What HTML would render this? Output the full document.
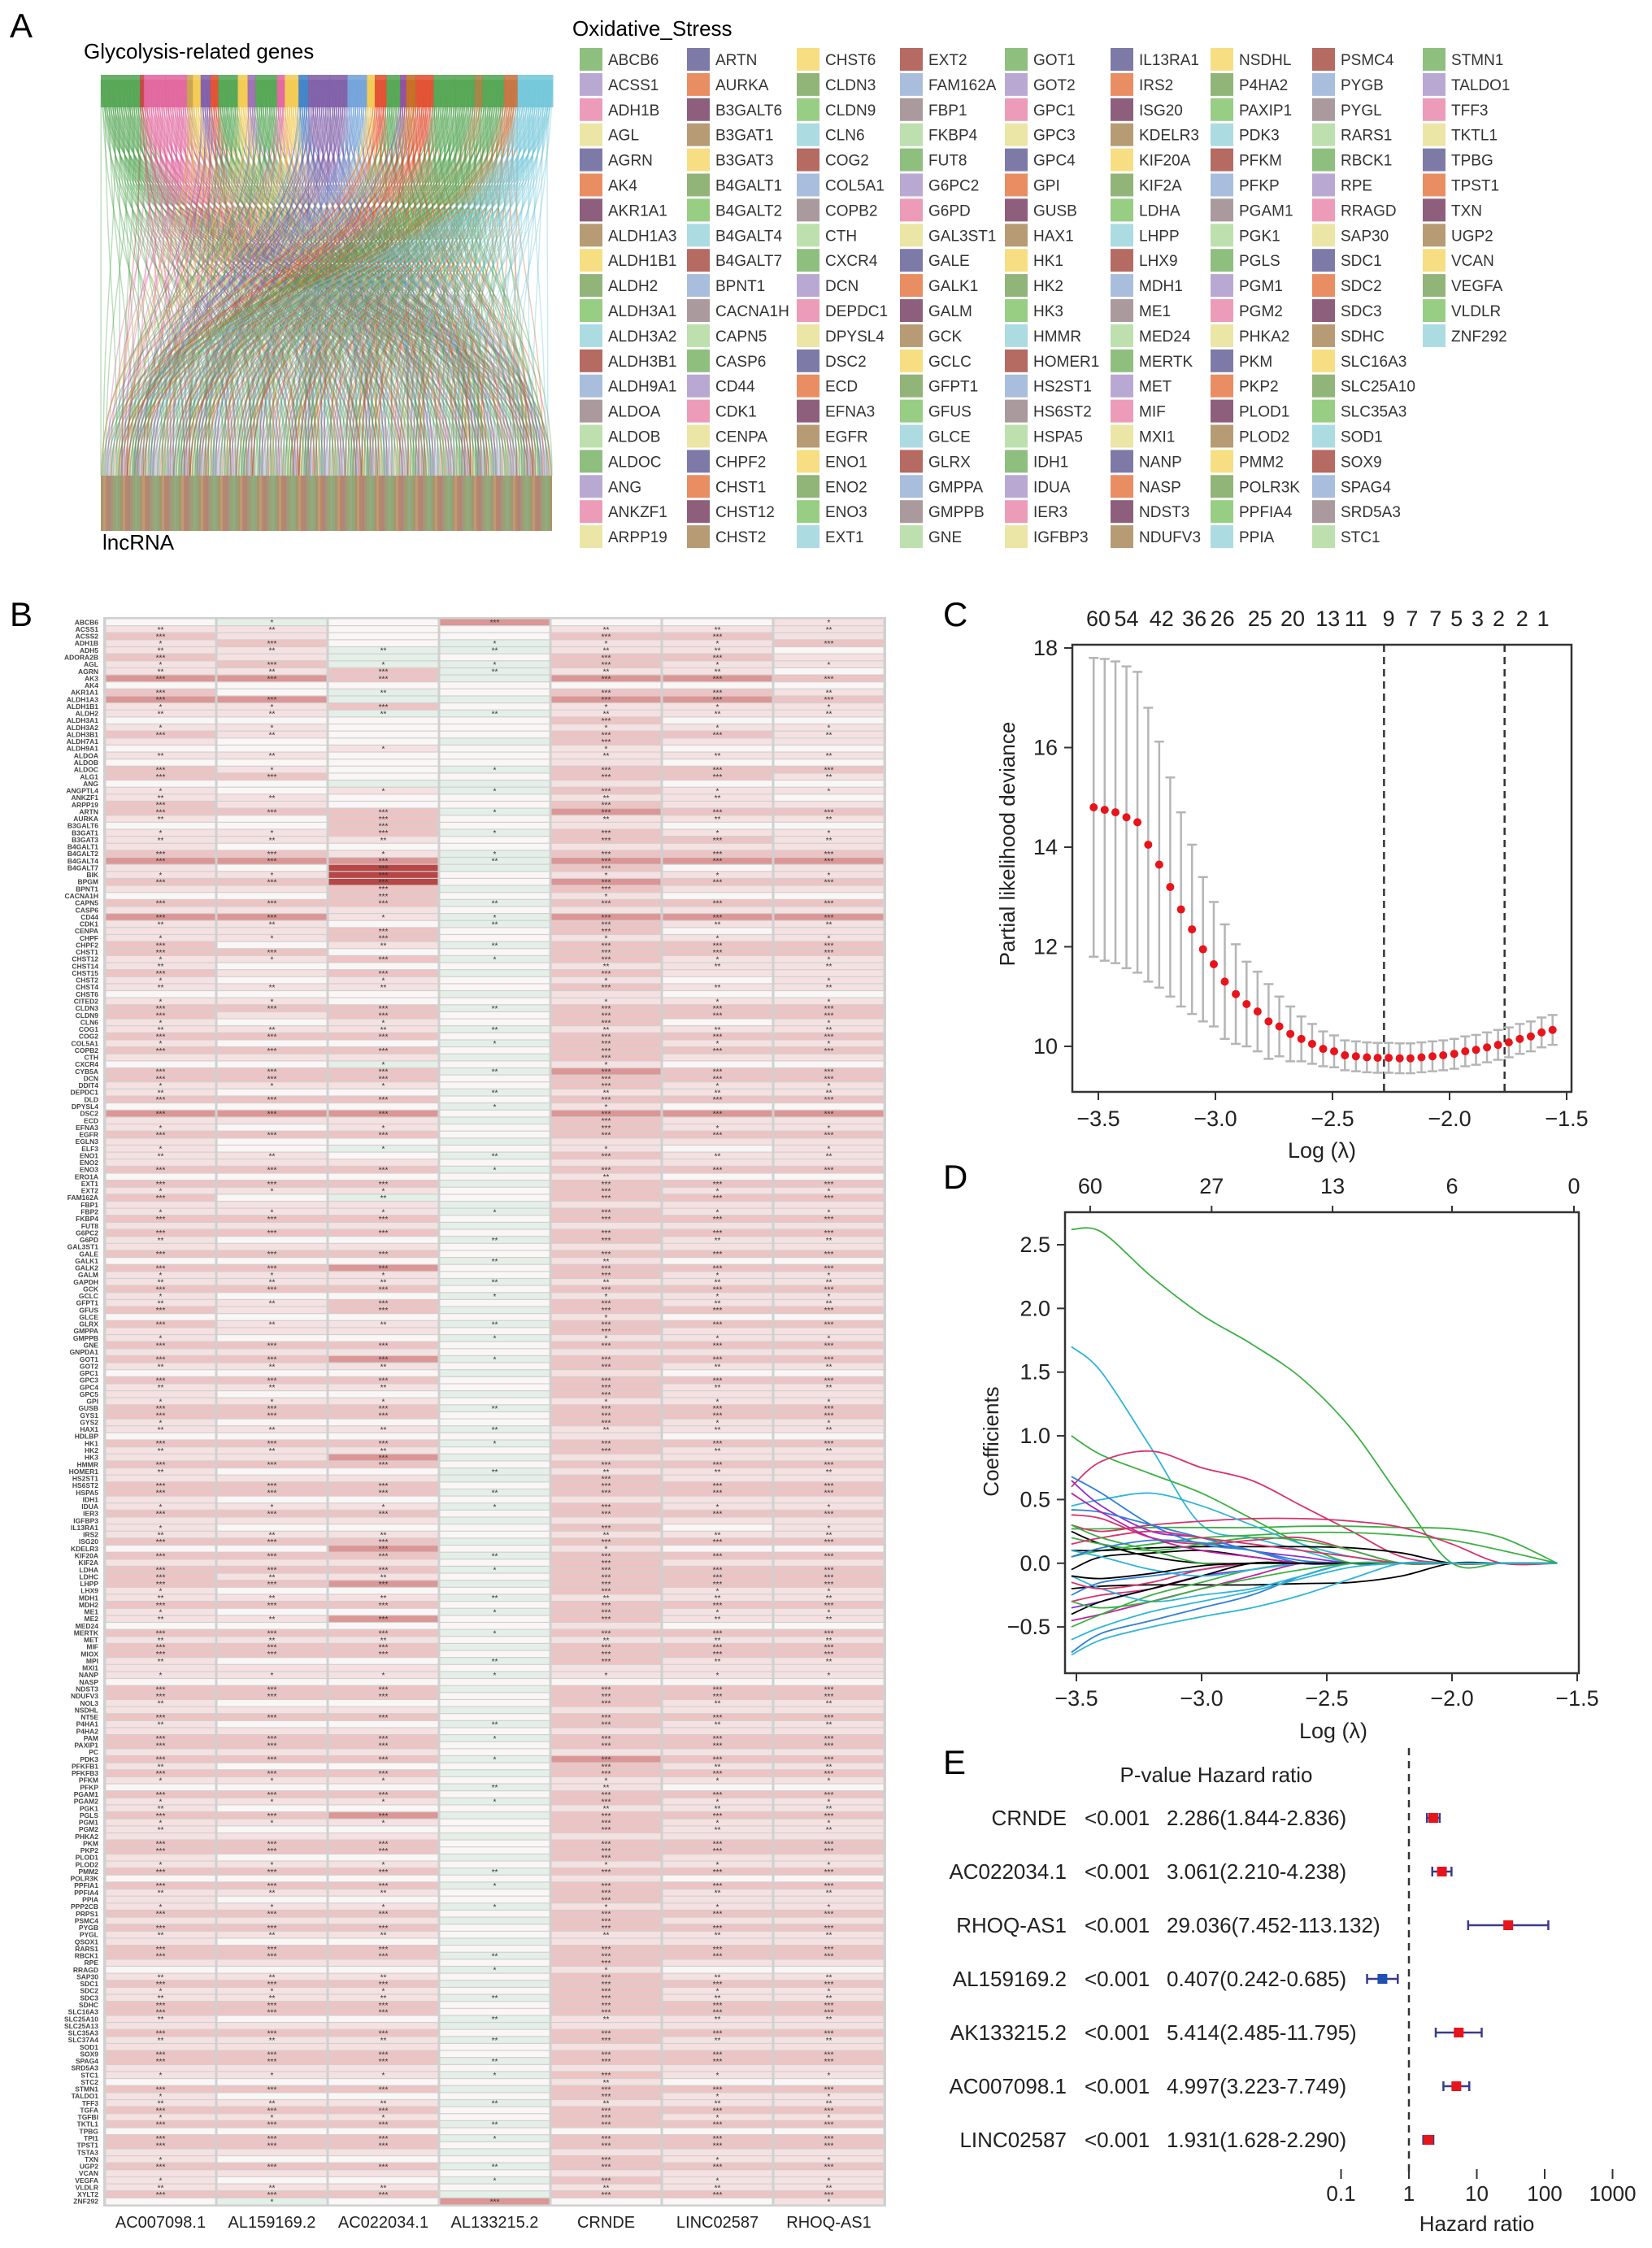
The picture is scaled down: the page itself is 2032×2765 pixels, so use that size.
<!DOCTYPE html>
<html><head><meta charset="utf-8">
<style>
html,body{margin:0;padding:0;background:#fff;}
svg{display:block;font-family:"Liberation Sans",Arial,sans-serif;}
</style></head>
<body>
<svg id="fig" width="2032" height="2765" viewBox="0 0 2032 2765" xmlns="http://www.w3.org/2000/svg">
<rect x="0" y="0" width="2032" height="2765" fill="#fff"/>
<g id="panelA">
  <text x="12" y="46" font-size="42">A</text>
  <text x="103" y="72" font-size="26">Glycolysis-related genes</text>
  <text x="126" y="676" font-size="26">lncRNA</text>
  <text x="704" y="44" font-size="26">Oxidative_Stress</text>
  <g id="sankey"></g>
  <g id="legendA"></g>
</g>
<g id="panelB">
  <text x="12" y="770" font-size="42">B</text>
  <g id="heat"></g>
</g>
<g id="panelC">
  <text x="1160" y="770" font-size="42">C</text>
  <g id="cv"></g>
</g>
<g id="panelD">
  <text x="1160" y="1462" font-size="42">D</text>
  <g id="coef"></g>
</g>
<g id="panelE">
  <text x="1160" y="2182" font-size="42">E</text>
  <g id="forest"></g>
</g>
</svg>
<script>
// ---------- DATA ----------
const legendGenes = ["ABCB6","ACSS1","ADH1B","AGL","AGRN","AK4","AKR1A1","ALDH1A3","ALDH1B1","ALDH2","ALDH3A1","ALDH3A2","ALDH3B1","ALDH9A1","ALDOA","ALDOB","ALDOC","ANG","ANKZF1","ARPP19",
"ARTN","AURKA","B3GALT6","B3GAT1","B3GAT3","B4GALT1","B4GALT2","B4GALT4","B4GALT7","BPNT1","CACNA1H","CAPN5","CASP6","CD44","CDK1","CENPA","CHPF2","CHST1","CHST12","CHST2",
"CHST6","CLDN3","CLDN9","CLN6","COG2","COL5A1","COPB2","CTH","CXCR4","DCN","DEPDC1","DPYSL4","DSC2","ECD","EFNA3","EGFR","ENO1","ENO2","ENO3","EXT1",
"EXT2","FAM162A","FBP1","FKBP4","FUT8","G6PC2","G6PD","GAL3ST1","GALE","GALK1","GALM","GCK","GCLC","GFPT1","GFUS","GLCE","GLRX","GMPPA","GMPPB","GNE",
"GOT1","GOT2","GPC1","GPC3","GPC4","GPI","GUSB","HAX1","HK1","HK2","HK3","HMMR","HOMER1","HS2ST1","HS6ST2","HSPA5","IDH1","IDUA","IER3","IGFBP3",
"IL13RA1","IRS2","ISG20","KDELR3","KIF20A","KIF2A","LDHA","LHPP","LHX9","MDH1","ME1","MED24","MERTK","MET","MIF","MXI1","NANP","NASP","NDST3","NDUFV3",
"NSDHL","P4HA2","PAXIP1","PDK3","PFKM","PFKP","PGAM1","PGK1","PGLS","PGM1","PGM2","PHKA2","PKM","PKP2","PLOD1","PLOD2","PMM2","POLR3K","PPFIA4","PPIA",
"PSMC4","PYGB","PYGL","RARS1","RBCK1","RPE","RRAGD","SAP30","SDC1","SDC2","SDC3","SDHC","SLC16A3","SLC25A10","SLC35A3","SOD1","SOX9","SPAG4","SRD5A3","STC1",
"STMN1","TALDO1","TFF3","TKTL1","TPBG","TPST1","TXN","UGP2","VCAN","VEGFA","VLDLR","ZNF292"];
const legendPalette = ["#8fbf7f","#b9a9d2","#ec9cb8","#ebe5a6","#7e7aa8","#e88e62","#8e5f7c","#b69b74","#f7de82","#91b478","#98cd84","#acdbe2","#b56a62","#a9bedd","#aa9a9e","#bde0ae"];

const sankeyTopColors = ["#4fa34f","#c3403c","#e0629b","#e0629b","#c8a04a","#f2c94c","#7b5aa6","#e04a2a","#4fa34f","#f2c94c","#9c6bb0","#4fa34f","#e0629b","#f2c94c","#3b7fc4","#7b5aa6","#7b5aa6","#6fa0d8","#f2c94c","#e04a2a","#4fa34f","#8b4a9c","#c2691f","#e04a2a","#4fa34f","#4fa34f","#a08040","#4fa34f","#c3703c","#6fc6d8"];
const sankeyTopWidths = [40,4,22,22,6,8,10,8,20,10,8,22,8,14,10,22,18,20,8,12,14,6,10,18,22,20,8,22,14,36];

const heatLnc = ["AC007098.1","AL159169.2","AC022034.1","AL133215.2","CRNDE","LINC02587","RHOQ-AS1"];
const heatGenes = ["ABCB6","ACSS1","ACSS2","ADH1B","ADH5","ADORA2B","AGL","AGRN","AK3","AK4","AKR1A1","ALDH1A3","ALDH1B1","ALDH2","ALDH3A1","ALDH3A2","ALDH3B1","ALDH7A1","ALDH9A1","ALDOA","ALDOB","ALDOC","ALG1","ANG","ANGPTL4","ANKZF1","ARPP19","ARTN","AURKA","B3GALT6","B3GAT1","B3GAT3","B4GALT1","B4GALT2","B4GALT4","B4GALT7","BIK","BPGM","BPNT1","CACNA1H","CAPN5","CASP6","CD44","CDK1","CENPA","CHPF","CHPF2","CHST1","CHST12","CHST14","CHST15","CHST2","CHST4","CHST6","CITED2","CLDN3","CLDN9","CLN6","COG1","COG2","COL5A1","COPB2","CTH","CXCR4","CYB5A","DCN","DDIT4","DEPDC1","DLD","DPYSL4","DSC2","ECD","EFNA3","EGFR","EGLN3","ELF3","ENO1","ENO2","ENO3","ERO1A","EXT1","EXT2","FAM162A","FBP1","FBP2","FKBP4","FUT8","G6PC2","G6PD","GAL3ST1","GALE","GALK1","GALK2","GALM","GAPDH","GCK","GCLC","GFPT1","GFUS","GLCE","GLRX","GMPPA","GMPPB","GNE","GNPDA1","GOT1","GOT2","GPC1","GPC3","GPC4","GPC5","GPI","GUSB","GYS1","GYS2","HAX1","HDLBP","HK1","HK2","HK3","HMMR","HOMER1","HS2ST1","HS6ST2","HSPA5","IDH1","IDUA","IER3","IGFBP3","IL13RA1","IRS2","ISG20","KDELR3","KIF20A","KIF2A","LDHA","LDHC","LHPP","LHX9","MDH1","MDH2","ME1","ME2","MED24","MERTK","MET","MIF","MIOX","MPI","MXI1","NANP","NASP","NDST3","NDUFV3","NOL3","NSDHL","NT5E","P4HA1","P4HA2","PAM","PAXIP1","PC","PDK3","PFKFB1","PFKFB3","PFKM","PFKP","PGAM1","PGAM2","PGK1","PGLS","PGM1","PGM2","PHKA2","PKM","PKP2","PLOD1","PLOD2","PMM2","POLR3K","PPFIA1","PPFIA4","PPIA","PPP2CB","PRPS1","PSMC4","PYGB","PYGL","QSOX1","RARS1","RBCK1","RPE","RRAGD","SAP30","SDC1","SDC2","SDC3","SDHC","SLC16A3","SLC25A10","SLC25A13","SLC35A3","SLC37A4","SOD1","SOX9","SPAG4","SRD5A3","STC1","STC2","STMN1","TALDO1","TFF3","TGFA","TGFBI","TKTL1","TPBG","TPI1","TPST1","TSTA3","TXN","UGP2","VCAN","VEGFA","VLDLR","XYLT2","ZNF292"];
// correlation level per cell: 0-3 green (negative), 4 neutral, 5-8 red (positive)
const heatCol1 = "4565565574675545654546645"+"5665455567556546575556655"+"6554566556565466556475565"+"5556465655656556465565564"+"6556565465556655465565566"+"5565556465666556554656655"+"5466556556656565465565556"+"6556465556565566545655665"+"5655665546556564665565556";
const heatCol2 = "3556556574475545544545644"+"5564455467456546575554654"+"5454565456465466546475464"+"4556465455656456465564554"+"5546565465456645465564566"+"4565456465656456454656645"+"5466456456656465465465456"+"6456465456565466545655664"+"5655665546456564665465456";
const heatCol3 = "4444333664336344445444435"+"4466665457888666554665464"+"6554466556465366546475564"+"3456465355656456475564664"+"5546575465456645465764566"+"4565456765657456474656645"+"5466456456656465465475456"+"6456465456565466545655664"+"5655665546456564665465456";
const heatCol4 = "7443343334434344434443433"+"4434434433344343433443434"+"3443434434343434434343443"+"4343434433434344344343434"+"3434434344343443434343343"+"4343443434343434344343434"+"3434434343443434343434434"+"4343434434344343434343443"+"3434434343434434343434343";
const heatCol5 = "4565566574675565665556656"+"5675566567657656576656665"+"6565566656666576656576665"+"5656566656656656566565665"+"6656566566656665566565666"+"5665656566666656665656665"+"5466656656657665566566656"+"6656566656665566656666665"+"5665665656656664665665656";
const heatCol6 = "4565565574675545654546645"+"5565456567456546575456655"+"5454566456565466556475565"+"4556465655656556465565564"+"6556565465556655465565566"+"5565456465666556554656655"+"5466556556656565465565556"+"6556465556565566545655665"+"5655665546556564665565556";
const heatCol7 = "5556455464565545554546545"+"4565455567556546575556655"+"5554566556565466556475565"+"5556465655656556465565564"+"6556565465556655465565566"+"5565556465666556554656655"+"5466556556656565465565556"+"6556465556565566545655665"+"5655665546556564665565556";
const heatCols = [heatCol1,heatCol2,heatCol3,heatCol4,heatCol5,heatCol6,heatCol7];
const heatColors = ["#7fb093","#a3c9b1","#c6dfcf","#e4efe8","#faf6f6","#f5e1e1","#edc3c3","#dc9696","#b84646"];

const cvLogLambda = [-3.52,-3.473,-3.427,-3.38,-3.333,-3.287,-3.24,-3.193,-3.147,-3.1,-3.053,-3.007,-2.96,-2.913,-2.867,-2.82,-2.773,-2.727,-2.68,-2.633,-2.587,-2.54,-2.493,-2.447,-2.4,-2.353,-2.307,-2.26,-2.213,-2.167,-2.12,-2.073,-2.027,-1.98,-1.933,-1.887,-1.84,-1.793,-1.747,-1.7,-1.653,-1.607,-1.56];
const cvMean = [14.8,14.75,14.7,14.6,14.5,14.05,13.65,13.2,12.75,12.35,11.95,11.65,11.3,11.05,10.85,10.7,10.5,10.4,10.25,10.15,10.05,9.95,9.9,9.82,9.8,9.78,9.77,9.77,9.76,9.76,9.78,9.8,9.82,9.85,9.9,9.93,9.98,10.03,10.08,10.15,10.2,10.28,10.33];
const cvSd = [3.0,3.03,3.03,3.03,3.02,2.75,2.47,2.2,1.95,1.7,1.45,1.25,1.15,1.0,0.85,0.8,0.75,0.6,0.55,0.45,0.4,0.35,0.32,0.3,0.3,0.3,0.3,0.3,0.3,0.3,0.3,0.3,0.3,0.3,0.3,0.3,0.3,0.3,0.3,0.3,0.3,0.3,0.3];
const cvTopLabels = ["60","54","42","36","26","25","20","13","11","9","7","7","5","3","2","2","1"];
const cvTopAt = [-3.5,-3.38,-3.23,-3.09,-2.97,-2.81,-2.67,-2.52,-2.40,-2.26,-2.16,-2.06,-1.97,-1.88,-1.79,-1.69,-1.60];
const cvXTicks = [-3.5,-3.0,-2.5,-2.0,-1.5];
const cvYTicks = [10,12,14,16,18];
const cvVLines = [-2.28,-1.765];

const pathKnots = [-3.52,-3.4,-3.2,-3.0,-2.8,-2.6,-2.4,-2.2,-2.0,-1.8,-1.58];
const pathColors = ["#3cb043","#2fb5d6","#3cb043","#d6336c","#3cb043","#3cb043","#d6336c","#2fb5d6","#000000","#000000","#2fb5d6","#2f7fd6","#c21fa6","#3cb043","#8a2fd6","#2f7fd6","#d6336c","#000000","#d6336c","#2f7fd6","#3cb043","#8a2fd6","#2fb5d6","#000000","#d6336c","#2f7fd6","#3cb043","#d6336c","#000000","#2fb5d6","#c21fa6","#2f7fd6","#000000","#3cb043","#2fb5d6"];
const pathValues = [
[2.62,2.6,2.25,1.95,1.72,1.45,1.05,0.5,0,0,0],
[1.7,1.5,0.9,0.3,0.2,0.1,0,0,0,0,0],
[1.0,0.85,0.7,0.55,0.35,0.15,0,0,0,0,0],
[0.6,0.8,0.88,0.75,0.65,0.45,0.25,0.05,0,0,0],
[0.27,0.27,0.28,0.28,0.28,0.29,0.29,0.28,0.27,0.2,0],
[0.05,0.1,0.15,0.2,0.22,0.24,0.24,0.22,0.18,0.1,0],
[0.3,0.25,0.3,0.33,0.35,0.35,0.33,0.28,0.15,0,0],
[0.45,0.5,0.55,0.45,0.3,0.15,0.05,0,0,0,0],
[0.1,0.1,0.12,0.13,0.13,0.13,0.12,0.08,0,0,0],
[-0.2,-0.18,-0.17,-0.17,-0.17,-0.16,-0.15,-0.1,0,0,0],
[-0.72,-0.6,-0.5,-0.42,-0.35,-0.25,-0.12,0,0,0,0],
[-0.7,-0.55,-0.45,-0.35,-0.25,-0.1,0,0,0,0,0],
[-0.45,-0.4,-0.3,-0.2,-0.1,0,0,0,0,0,0],
[-0.5,-0.4,-0.25,-0.15,-0.05,0,0,0,0,0,0],
[0.65,0.45,0.25,0.2,0.1,0.05,0,0,0,0,0],
[0.68,0.55,0.3,0.15,0.1,0,0,0,0,0,0],
[0.38,0.35,0.2,0.15,0.18,0.2,0.1,0,0,0,0],
[0.25,0.15,0.05,0,0,0,0,0,0,0,0],
[-0.3,-0.25,-0.2,-0.1,0,0,0,0,0,0,0],
[0.42,0.4,0.3,0.2,0.1,0,0,0,0,0,0],
[0.2,0.15,0.1,0.15,0.2,0.18,0.1,0,0,0,0],
[-0.35,-0.3,-0.2,-0.1,-0.05,0,0,0,0,0,0],
[-0.1,-0.2,-0.3,-0.25,-0.2,-0.1,0,0,0,0,0],
[-0.05,0.05,0.08,0.1,0.05,0,0,0,0,0,0],
[0.15,0.2,0.25,0.2,0.15,0.1,0.05,0,0,0,0],
[-0.25,-0.15,-0.1,-0.05,0,0,0,0,0,0,0],
[0.3,0.2,0.1,0,0,0,0,0,0,0,0],
[-0.15,-0.2,-0.15,-0.05,0,0,0,0,0,0,0],
[-0.4,-0.3,-0.2,-0.1,0,0,0,0,0,0,0],
[0.1,0.05,-0.05,-0.1,-0.05,0,0,0,0,0,0],
[0.55,0.4,0.2,0.1,0.05,0,0,0,0,0,0],
[0.05,0.12,0.18,0.16,0.1,0.02,0,0,0,0,0],
[-0.1,-0.12,-0.08,-0.02,0,0,0,0,0,0,0],
[-0.3,-0.35,-0.3,-0.2,-0.12,-0.05,0,0,0,0,0],
[-0.6,-0.5,-0.38,-0.3,-0.22,-0.12,-0.03,0,0,0,0]];
const coefXTicks = [-3.5,-3.0,-2.5,-2.0,-1.5];
const coefYTicks = [-0.5,0.0,0.5,1.0,1.5,2.0,2.5];
const coefTopLabels = ["60","27","13","6","0"];
const coefTopAt = [-3.445,-2.96,-2.477,-2.0,-1.513];

const forestGenes = ["CRNDE","AC022034.1","RHOQ-AS1","AL159169.2","AK133215.2","AC007098.1","LINC02587"];
const forestP = ["<0.001","<0.001","<0.001","<0.001","<0.001","<0.001","<0.001"];
const forestHR = [2.286,3.061,29.036,0.407,5.414,4.997,1.931];
const forestLo = [1.844,2.210,7.452,0.242,2.485,3.223,1.628];
const forestHi = [2.836,4.238,113.132,0.685,11.795,7.749,2.290];
const forestTicks = [0.1,1,10,100,1000];

// ---------- HELPERS ----------
const NS = "http://www.w3.org/2000/svg";
function mk(parent, tag, attrs){ const e=document.createElementNS(NS,tag); for(const k in attrs) e.setAttribute(k,attrs[k]); parent.appendChild(e); return e; }
function fmt(v){ return (v<0?"\u2212":"")+Math.abs(v).toFixed(1); }

// ---------- PANEL A: sankey ----------
(function(){
  const g=document.getElementById('sankey');
  const L=124,R=680,T=92,B=653,botTop=585;
  const total=sankeyTopWidths.reduce((a,b)=>a+b,0);
  const sc=(R-L)/total;
  let x=L; const nodes=[];
  sankeyTopWidths.forEach((w,i)=>{ nodes.push({x0:x,w:w*sc,c:sankeyTopColors[i]}); x+=w*sc; });
  const lg=mk(g,'g',{});
  
  
  let k=0;
  nodes.forEach((n,ni)=>{
    const cnt=Math.max(6,Math.round(n.w*1.6));
    for(let j=0;j<cnt;j++){
      const sx=n.x0+n.w*(j+0.5)/cnt;
      const ex=L+((k*211+ni*37)%556);
      k++;
      const p=mk(lg,'path',{d:`M${sx},${T+6} C${sx},${T+260} ${ex},${botTop-240} ${ex},${botTop}`,stroke:n.c,'stroke-width':1.4,'stroke-opacity':0.38,fill:'none'});
      
      
    }
  });
  nodes.forEach((n,i)=>{
    const r=mk(g,'rect',{x:n.x0,y:T,width:n.w+0.5,height:40,fill:n.c,opacity:0.85});
    
    
  });
  const stripeCols=["#a08a5a","#8e9a5e","#b07a5a","#7fa06a","#9a8a70","#b5906a","#8aa078","#a87868"];
  for(let i=0;i<185;i++){
    const r=mk(g,'rect',{x:L+i*3,y:botTop,width:3,height:B-botTop,fill:stripeCols[(i*5)%stripeCols.length],opacity:0.9});
    
    
  }
})();

// ---------- PANEL A: legend ----------
(function(){
  const g=document.getElementById('legendA');
  const colX=[713,845,980,1107,1236,1366,1489,1614,1750];
  legendGenes.forEach((name,i)=>{
    const c=Math.floor(i/20), r=i%20;
    const y=59+r*30.9;
    const e=mk(g,'g',{});
    
    
    mk(e,'rect',{x:colX[c],y:y,width:28,height:28,fill:legendPalette[i%16]});
    const t=mk(e,'text',{x:colX[c]+35,y:y+21,'font-size':19,fill:'#333'});
    t.textContent=name;
  });
})();

// ---------- PANEL B: heatmap ----------
(function(){
  const g=document.getElementById('heat');
  const L=129, T=761, Bt=2712, cw=137;
  const n=heatGenes.length, rh=(Bt-T)/n;
  mk(g,'rect',{x:L-2,y:T-2,width:cw*7+4,height:Bt-T+4,fill:'#d0d0d0'});
  heatCols.forEach((s,c)=>{
    for(let r=0;r<n;r++){
      const v=parseInt(s[r%s.length]||'4');
      const y=T+r*rh;
      const cell=mk(g,'rect',{x:L+c*cw+1.5,y:y+0.6,width:cw-3,height:rh-1.2,fill:heatColors[v]});
      
      
      const d=Math.abs(v-4);
      const st=d>=2?'***':(d===1&&(r%3===0)?'*':(d===1&&(r%3===1)?'**':''));
      if(st){
        const t=mk(g,'text',{x:L+c*cw+cw/2,y:y+rh*0.95,'font-size':10,'text-anchor':'middle',fill:'#333'});
        t.textContent=st;
      }
    }
    const lab=mk(g,'text',{x:L+c*cw+cw/2,y:2740,'font-size':20,'text-anchor':'middle',fill:'#222'});
    
    
    lab.textContent=heatLnc[c];
  });
  heatGenes.forEach((gname,r)=>{
    const t=mk(g,'text',{x:121,y:T+r*rh+rh*0.85,'font-size':8.5,'text-anchor':'end',fill:'#444','font-weight':'bold'});
    
    
    t.textContent=gname;
  });
})();

// ---------- PANEL C ----------
(function(){
  const g=document.getElementById('cv');
  const bx0=1319,bx1=1933,by0=793,by1=1343;
  const X=v=>1351+(v+3.5)*288;
  const Y=v=>1287-(v-10)*61.25;
  mk(g,'rect',{x:bx0,y:by0,width:bx1-bx0,height:by1-by0,fill:'none',stroke:'#333','stroke-width':2.5});
  cvVLines.forEach(v=>{ const l=mk(g,'line',{x1:X(v),x2:X(v),y1:by0,y2:by1,stroke:'#333','stroke-width':2.5,'stroke-dasharray':'9,6'});   });
  cvLogLambda.forEach((lv,i)=>{
    const x=X(lv), m=cvMean[i], s=cvSd[i];
    const eg=mk(g,'g',{stroke:'#b5b5b5','stroke-width':2.5});
    
    
    mk(eg,'line',{x1:x,x2:x,y1:Y(m+s),y2:Y(m-s)});
    mk(eg,'line',{x1:x-6,x2:x+6,y1:Y(m+s),y2:Y(m+s)});
    mk(eg,'line',{x1:x-6,x2:x+6,y1:Y(m-s),y2:Y(m-s)});
  });
  cvLogLambda.forEach((lv,i)=>{
    const c=mk(g,'circle',{cx:X(lv),cy:Y(cvMean[i]),r:5,fill:'#e8141b'});
    
    
  });
  cvXTicks.forEach(v=>{
    mk(g,'line',{x1:X(v),x2:X(v),y1:by1,y2:by1+10,stroke:'#333','stroke-width':2});
    const t=mk(g,'text',{x:X(v),y:1385,'font-size':27,'text-anchor':'middle',fill:'#222'}); t.textContent=fmt(v);
  });
  cvYTicks.forEach(v=>{
    mk(g,'line',{x1:bx0-10,x2:bx0,y1:Y(v),y2:Y(v),stroke:'#333','stroke-width':2});
    const t=mk(g,'text',{x:bx0-18,y:Y(v)+9,'font-size':27,'text-anchor':'end',fill:'#222'}); t.textContent=String(v);
  });
  cvTopLabels.forEach((s,i)=>{ const t=mk(g,'text',{x:X(cvTopAt[i]),y:770,'font-size':27,'text-anchor':'middle',fill:'#222'}); t.textContent=s; });
  const xl=mk(g,'text',{x:1626,y:1424,'font-size':27,'text-anchor':'middle',fill:'#222'}); xl.textContent='Log (\u03bb)';
   
  const yl=mk(g,'text',{x:0,y:0,'font-size':26,'text-anchor':'middle',fill:'#222',transform:'translate(1248,1038) rotate(-90)'}); yl.textContent='Partial likelihood deviance';
   
})();

// ---------- PANEL D ----------
(function(){
  const g=document.getElementById('coef');
  const bx0=1310,bx1=1942,by0=1491,by1=2058;
  const X=v=>1324+(v+3.5)*308;
  const Y=v=>1531-(v-2.5)*156.7;
  mk(g,'rect',{x:bx0,y:by0,width:bx1-bx0,height:by1-by0,fill:'none',stroke:'#333','stroke-width':2.5});
  function smooth(pts){
    let d=`M${pts[0][0]},${pts[0][1]}`;
    for(let i=0;i<pts.length-1;i++){
      const p0=pts[Math.max(0,i-1)],p1=pts[i],p2=pts[i+1],p3=pts[Math.min(pts.length-1,i+2)];
      const c1x=p1[0]+(p2[0]-p0[0])/6,c1y=p1[1]+(p2[1]-p0[1])/6,c2x=p2[0]-(p3[0]-p1[0])/6,c2y=p2[1]-(p3[1]-p1[1])/6;
      d+=` C${c1x.toFixed(1)},${c1y.toFixed(1)} ${c2x.toFixed(1)},${c2y.toFixed(1)} ${p2[0].toFixed(1)},${p2[1].toFixed(1)}`;
    }
    return d;
  }
  pathValues.forEach((vals,i)=>{
    const pts=vals.map((v,j)=>[X(pathKnots[j]),Y(v)]);
    const p=mk(g,'path',{d:smooth(pts),stroke:pathColors[i%pathColors.length],'stroke-width':1.8,fill:'none'});
    
    
  });
  coefXTicks.forEach(v=>{
    mk(g,'line',{x1:X(v),x2:X(v),y1:by1,y2:by1+10,stroke:'#333','stroke-width':2});
    const t=mk(g,'text',{x:X(v),y:2098,'font-size':27,'text-anchor':'middle',fill:'#222'}); t.textContent=fmt(v);
  });
  coefYTicks.forEach(v=>{
    mk(g,'line',{x1:bx0-10,x2:bx0,y1:Y(v),y2:Y(v),stroke:'#333','stroke-width':2});
    const t=mk(g,'text',{x:bx0-18,y:Y(v)+9,'font-size':27,'text-anchor':'end',fill:'#222'}); t.textContent=fmt(v);
  });
  coefTopLabels.forEach((s,i)=>{
    mk(g,'line',{x1:X(coefTopAt[i]),x2:X(coefTopAt[i]),y1:by0,y2:by0-8,stroke:'#333','stroke-width':2});
    const t=mk(g,'text',{x:X(coefTopAt[i]),y:1468,'font-size':27,'text-anchor':'middle',fill:'#222'}); t.textContent=s;
  });
  const xl=mk(g,'text',{x:1640,y:2138,'font-size':27,'text-anchor':'middle',fill:'#222'}); xl.textContent='Log (\u03bb)';
   
  const yl=mk(g,'text',{x:0,y:0,'font-size':26,'text-anchor':'middle',fill:'#222',transform:'translate(1228,1773) rotate(-90)'}); yl.textContent='Coefficients';
   
})();

// ---------- PANEL E ----------
(function(){
  const g=document.getElementById('forest');
  const X=v=>1733+83.5*Math.log10(v);
  const rowY=i=>2236+i*66;
  const hdr=mk(g,'text',{x:1496,y:2192,'font-size':26,'text-anchor':'middle',fill:'#222'}); hdr.textContent='P-value Hazard ratio';
  mk(g,'line',{x1:X(1),x2:X(1),y1:2150,y2:2678,stroke:'#333','stroke-width':2.5,'stroke-dasharray':'9,7'});
  forestGenes.forEach((gn,i)=>{
    const y=rowY(i);
    const a=mk(g,'text',{x:1312,y:y+9,'font-size':26,'text-anchor':'end',fill:'#222'}); a.textContent=gn;
     
    const b=mk(g,'text',{x:1334,y:y+9,'font-size':26,fill:'#222'}); b.textContent=forestP[i];
    const c=mk(g,'text',{x:1435,y:y+9,'font-size':26,fill:'#222'}); c.textContent=forestHR[i].toFixed(3)+'('+forestLo[i].toFixed(3)+'-'+forestHi[i].toFixed(3)+')';
    const ci=mk(g,'g',{stroke:'#3a3a8c','stroke-width':2.5});
     
    mk(ci,'line',{x1:X(forestLo[i]),x2:X(forestHi[i]),y1:y,y2:y});
    mk(ci,'line',{x1:X(forestLo[i]),x2:X(forestLo[i]),y1:y-6,y2:y+6});
    mk(ci,'line',{x1:X(forestHi[i]),x2:X(forestHi[i]),y1:y-6,y2:y+6});
    const sq=mk(g,'rect',{x:X(forestHR[i])-6,y:y-6,width:12,height:12,fill:forestHR[i]>=1?'#e8141b':'#1f4fb0'});
     
  });
  forestTicks.forEach(v=>{
    mk(g,'line',{x1:X(v),x2:X(v),y1:2668,y2:2680,stroke:'#333','stroke-width':2});
    const t=mk(g,'text',{x:X(v),y:2707,'font-size':26,'text-anchor':'middle',fill:'#222'}); t.textContent=String(v);
  });
  const xl=mk(g,'text',{x:X(10),y:2744,'font-size':26,'text-anchor':'middle',fill:'#222'}); xl.textContent='Hazard ratio';
   
})();
</script>
</body></html>
